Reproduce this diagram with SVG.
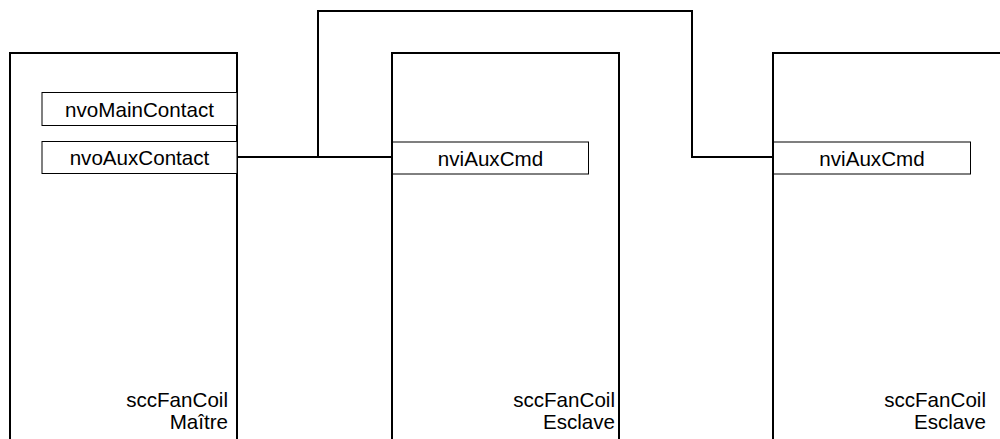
<svg xmlns="http://www.w3.org/2000/svg" width="1000" height="439" viewBox="0 0 1000 439">
<style>
.blk{fill:none;stroke:#000;stroke-width:2}
.port{fill:#fff;stroke:#000;stroke-width:1}
.wire{fill:none;stroke:#000;stroke-width:2}
text{font-family:"Liberation Sans",Arial,sans-serif;font-size:20.6px;fill:#000}
.c{text-anchor:middle}
.r{text-anchor:end}
</style>
<rect width="1000" height="439" fill="#fff"/>
<g id="master">
<path class="blk" d="M10,440 V53 H237 V440"/>
<rect class="port" x="42" y="92.5" width="195" height="33"/>
<text class="c" x="139.5" y="116.5">nvoMainContact</text>
<rect class="port" x="42" y="141.5" width="195" height="32"/>
<text class="c" x="139.5" y="165">nvoAuxContact</text>
<text class="r" x="228" y="406.5">sccFanCoil</text>
<text class="r" x="228" y="428.5">Maître</text>
</g>
<g id="slave1">
<path class="blk" d="M392,440 V53 H619 V440"/>
<rect class="port" x="392.5" y="142" width="196" height="32"/>
<text class="c" x="490.5" y="165.5">nviAuxCmd</text>
<text class="r" x="615" y="406.5">sccFanCoil</text>
<text class="r" x="615" y="428.5">Esclave</text>
</g>
<g id="slave2">
<path class="blk" d="M773,440 V53 H1001"/>
<rect class="port" x="773.5" y="142" width="197" height="32"/>
<text class="c" x="872" y="165.5">nviAuxCmd</text>
<text class="r" x="986" y="406.5">sccFanCoil</text>
<text class="r" x="986" y="428.5">Esclave</text>
</g>
<g id="connectors">
<path class="wire" d="M237,157 H392"/>
<path class="wire" d="M318,157 V11 H692 V157 H773"/>
</g>
</svg>
